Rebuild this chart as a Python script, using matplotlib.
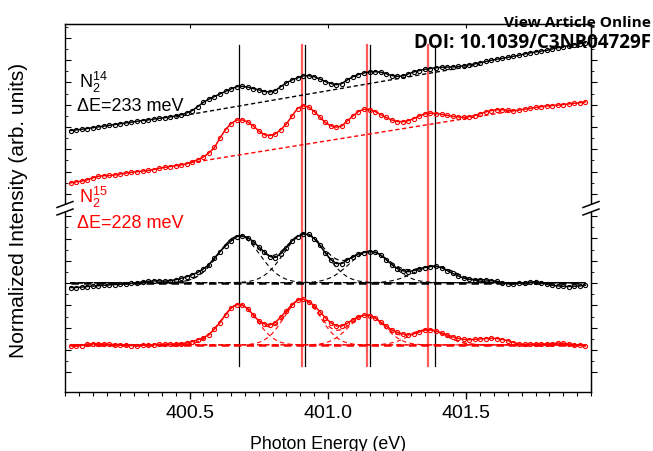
import numpy as np
import matplotlib
matplotlib.use("Agg")
import matplotlib.pyplot as plt
from matplotlib.ticker import MultipleLocator, FixedLocator, NullFormatter
from matplotlib.patches import Rectangle

plt.rcParams['font.family'] = ['Liberation Sans', 'DejaVu Sans']
plt.rcParams['mathtext.fontset'] = 'custom'
plt.rcParams['mathtext.rm'] = 'Liberation Sans'
plt.rcParams['mathtext.it'] = 'Liberation Sans:italic'
plt.rcParams['mathtext.bf'] = 'Liberation Sans:bold'

# ---------------- data ----------------
E_START = 400.07      # first sampled photon energy (eV)
E_STEP = 0.02         # sampling step (eV)

# raw spectra (upper pair) with sloping background
n14_raw = [13.06, 13.09, 13.12, 13.16, 13.20, 13.24, 13.28, 13.32, 13.36, 13.40,
           13.44, 13.48, 13.52, 13.56, 13.59, 13.63, 13.67, 13.70, 13.74, 13.79,
           13.85, 13.94, 14.06, 14.26, 14.47, 14.63, 14.76, 14.89, 15.02, 15.14,
           15.25, 15.27, 15.23, 15.16, 15.09, 15.01, 14.99, 15.06, 15.26, 15.44,
           15.59, 15.69, 15.79, 15.80, 15.75, 15.64, 15.51, 15.41, 15.35, 15.41,
           15.59, 15.75, 15.86, 15.94, 15.99, 16.00, 15.98, 15.90, 15.81, 15.77,
           15.79, 15.89, 15.99, 16.06, 16.12, 16.16, 16.20, 16.22, 16.23, 16.24,
           16.26, 16.30, 16.34, 16.39, 16.45, 16.51, 16.57, 16.63, 16.67, 16.72,
           16.77, 16.82, 16.89, 16.94, 16.99, 17.03, 17.07, 17.14, 17.20, 17.25,
           17.30, 17.35, 17.40, 17.45]
n15_raw = [10.44, 10.49, 10.53, 10.59, 10.69, 10.77, 10.80, 10.81, 10.84, 10.89,
           10.93, 10.97, 11.00, 11.03, 11.06, 11.11, 11.17, 11.22, 11.26, 11.30,
           11.34, 11.40, 11.50, 11.60, 11.74, 11.94, 12.21, 12.69, 13.11, 13.41,
           13.58, 13.59, 13.49, 13.29, 13.04, 12.85, 12.81, 12.89, 13.11, 13.39,
           13.79, 14.16, 14.30, 14.24, 14.01, 13.74, 13.46, 13.30, 13.23, 13.29,
           13.54, 13.79, 14.01, 14.12, 14.11, 14.01, 13.86, 13.71, 13.59, 13.51,
           13.50, 13.55, 13.66, 13.79, 13.89, 13.93, 13.91, 13.87, 13.82, 13.77,
           13.74, 13.72, 13.75, 13.81, 13.90, 13.99, 14.06, 14.10, 14.10, 14.07,
           14.05, 14.08, 14.13, 14.17, 14.21, 14.25, 14.29, 14.31, 14.33, 14.36,
           14.39, 14.42, 14.45, 14.49]

# background-subtracted spectra (lower pair)
n14_sub = [5.21, 5.21, 5.23, 5.26, 5.28, 5.30, 5.32, 5.34, 5.36, 5.37,
           5.39, 5.42, 5.45, 5.49, 5.52, 5.54, 5.54, 5.53, 5.55, 5.60,
           5.67, 5.75, 5.85, 5.97, 6.14, 6.36, 6.69, 7.01, 7.29, 7.54,
           7.75, 7.80, 7.71, 7.51, 7.24, 6.99, 6.76, 6.71, 6.91, 7.21,
           7.54, 7.76, 7.88, 7.86, 7.66, 7.34, 6.94, 6.61, 6.41, 6.41,
           6.59, 6.76, 6.89, 6.96, 7.00, 6.98, 6.84, 6.61, 6.36, 6.16,
           6.05, 6.00, 6.06, 6.15, 6.21, 6.26, 6.27, 6.20, 6.06, 5.92,
           5.79, 5.68, 5.62, 5.61, 5.60, 5.59, 5.56, 5.52, 5.45, 5.39,
           5.39, 5.42, 5.45, 5.48, 5.50, 5.45, 5.37, 5.32, 5.29, 5.27,
           5.26, 5.27, 5.29, 5.33]
n15_sub = [2.30, 2.28, 2.31, 2.38, 2.40, 2.39, 2.39, 2.37, 2.36, 2.34,
           2.32, 2.31, 2.31, 2.32, 2.34, 2.35, 2.37, 2.38, 2.38, 2.39,
           2.41, 2.44, 2.51, 2.60, 2.70, 2.86, 3.14, 3.46, 3.84, 4.19,
           4.36, 4.34, 4.15, 3.84, 3.54, 3.39, 3.34, 3.46, 3.74, 4.05,
           4.36, 4.58, 4.63, 4.51, 4.31, 4.01, 3.70, 3.45, 3.29, 3.29,
           3.42, 3.60, 3.75, 3.83, 3.81, 3.69, 3.49, 3.29, 3.10, 2.97,
           2.89, 2.84, 2.90, 2.99, 3.08, 3.10, 3.04, 2.94, 2.84, 2.75,
           2.67, 2.62, 2.60, 2.62, 2.64, 2.66, 2.67, 2.66, 2.61, 2.55,
           2.46, 2.39, 2.37, 2.38, 2.39, 2.39, 2.39, 2.40, 2.43, 2.42,
           2.39, 2.35, 2.32, 2.29]

# linear backgrounds under the raw spectra (start / end points)
n14_bg_E = [400.45, 401.55]
n14_bg_I = [13.74, 16.36]
n15_bg_E = [400.50, 401.67]
n15_bg_I = [11.44, 14.04]

# fitted vibrational components of the lower spectra
n14_base = 5.45
n14_centers = [400.678, 400.916, 401.152, 401.385]
n14_heights = [2.34, 2.44, 1.55, 0.82]
n14_sigma = 0.075
n15_base = 2.34
n15_centers = [400.678, 400.907, 401.140, 401.360]
n15_heights = [2.02, 2.29, 1.49, 0.76]
n15_sigma = 0.065

xtick_vals = [400.5, 401.0, 401.5]
xtick_labels = ['400.5', '401.0', '401.5']

# ---------------- figure ----------------
fig = plt.figure(figsize=(6.53, 4.52), dpi=100)
ax = fig.add_axes([65 / 653, 1 - 392.7 / 452, 526 / 653, 367.7 / 452])
ax.set_xlim(400.05, 401.95)
ax.set_ylim(0, 18.385)

RED = '#ff0000'


def energies(n):
    return E_START + E_STEP * np.arange(n)


def gauss(x, c, h, s):
    return h * np.exp(-(x - c) ** 2 / (2 * s ** 2))


Efine = np.linspace(400.07, 401.93, 600)

# vertical guide lines
lo, hi = 1.29, 17.33
for c in n15_centers[1:]:
    ax.plot([c, c], [lo, hi], color='#ff5a5a', lw=1.6, zorder=1)
for c in n14_centers:
    ax.plot([c, c], [lo, hi], color='black', lw=0.9, zorder=2)

# backgrounds of upper spectra
ax.plot(n14_bg_E, n14_bg_I, color='black', ls=(0, (3, 2)), lw=1.0, zorder=3)
ax.plot(n15_bg_E, n15_bg_I, color=RED, ls=(0, (3, 2)), lw=1.0, zorder=3)

# fit components of lower spectra
for base, cs, hs, s, col in [(n14_base, n14_centers, n14_heights, n14_sigma, 'black'),
                             (n15_base, n15_centers, n15_heights, n15_sigma, RED)]:
    ax.plot([400.07, 401.93], [base, base], color=col, ls=(0, (3, 2)), lw=1.8, zorder=3)
    total = np.full_like(Efine, base)
    for c, h in zip(cs, hs):
        g = gauss(Efine, c, h, s)
        total += g
        ax.plot(Efine, base + g, color=col, ls=(0, (4, 3)), lw=0.8, zorder=3)
    ax.plot(Efine, total, color=col, ls=(0, (4, 3)), lw=0.9, zorder=5)

# measured spectra
mk = dict(ls='-', lw=1.1, marker='o', markersize=3.0, markerfacecolor='none',
          markeredgewidth=0.8, zorder=4)
ax.plot(energies(len(n14_raw)), n14_raw, color='black', **mk)
ax.plot(energies(len(n15_raw)), n15_raw, color=RED, **mk)
ax.plot(energies(len(n14_sub)), n14_sub, color='black', **mk)
ax.plot(energies(len(n15_sub)), n15_sub, color=RED, **mk)

# labels inside
ax.text(400.100, 15.25, r'N$_2^{14}$', fontsize=13, color='black', va='baseline')
ax.text(400.095, 14.08, '\u0394E=233 meV', fontsize=13, color='black', va='baseline')
ax.text(400.100, 9.50, r'N$_2^{15}$', fontsize=13, color=RED, va='baseline')
ax.text(400.095, 8.22, '\u0394E=228 meV', fontsize=13, color=RED, va='baseline')

# axes styling
for sp in ax.spines.values():
    sp.set_linewidth(1.0)
ax.xaxis.set_major_locator(FixedLocator(xtick_vals))
ax.set_xticklabels(xtick_labels)
ax.xaxis.set_minor_locator(MultipleLocator(0.05))
ax.tick_params(axis='x', which='major', direction='out', length=5, width=1,
               labelsize=14, pad=4, top=False)
ax.tick_params(axis='x', which='minor', direction='out', length=3, width=0.8, top=False)
yt = 0.97 + 1.115 * np.arange(17)
ax.yaxis.set_major_locator(FixedLocator(yt))
ax.yaxis.set_minor_locator(FixedLocator(yt + 0.5575))
ax.yaxis.set_major_formatter(NullFormatter())
ax.tick_params(axis='y', which='major', direction='in', length=4, width=0.8, right=False)
ax.tick_params(axis='y', which='minor', direction='in', length=2, width=0.6, right=False)

sec_top = ax.secondary_xaxis('top')
sec_top.xaxis.set_major_locator(FixedLocator(xtick_vals))
sec_top.xaxis.set_minor_locator(MultipleLocator(0.05))
sec_top.xaxis.set_major_formatter(NullFormatter())
sec_top.tick_params(which='major', direction='in', length=3, width=0.8)
sec_top.tick_params(which='minor', length=0)

sec_r = ax.secondary_yaxis('right')
sec_r.yaxis.set_major_locator(FixedLocator(yt))
sec_r.yaxis.set_minor_locator(FixedLocator(yt + 0.5575))
sec_r.yaxis.set_major_formatter(NullFormatter())
sec_r.tick_params(which='major', direction='out', length=4, width=0.8)
sec_r.tick_params(which='minor', direction='out', length=2, width=0.6)

ax.set_xlabel('Photon Energy (eV)', fontsize=12.8, labelpad=10)
ax.set_ylabel('Normalized Intensity (arb. units)', fontsize=15)
ax.yaxis.set_label_coords(-0.071, 0.4955)

# axis break marks on both vertical spines
W, H = 526.0, 367.7
yb1, yb2 = (392.7 - 213) / H, (392.7 - 205.5) / H
for xs in (0.0, 1.0):
    ax.add_patch(Rectangle((xs - 4 / W, yb1), 8 / W, yb2 - yb1, transform=ax.transAxes,
                           facecolor='white', edgecolor='none', clip_on=False, zorder=10))
    for yb in (yb1, yb2):
        ax.plot([xs - 8 / W, xs + 8 / W], [yb - 3 / H, yb + 3 / H], color='black', lw=1.1,
                transform=ax.transAxes, clip_on=False, zorder=11)

# journal overlay text
fig.text(0.997, 1 - 26.7 / 452, 'View Article Online', ha='right', va='baseline',
         fontsize=11.1, fontweight='bold', family=['Open Sans', 'DejaVu Sans'], zorder=20)
fig.text(0.997, 1 - 47.7 / 452, 'DOI: 10.1039/C3NR04729F', ha='right', va='baseline',
         fontsize=13.5, fontweight='bold', family=['Open Sans', 'DejaVu Sans'], zorder=20)

fig.savefig('out.png', dpi=100)
